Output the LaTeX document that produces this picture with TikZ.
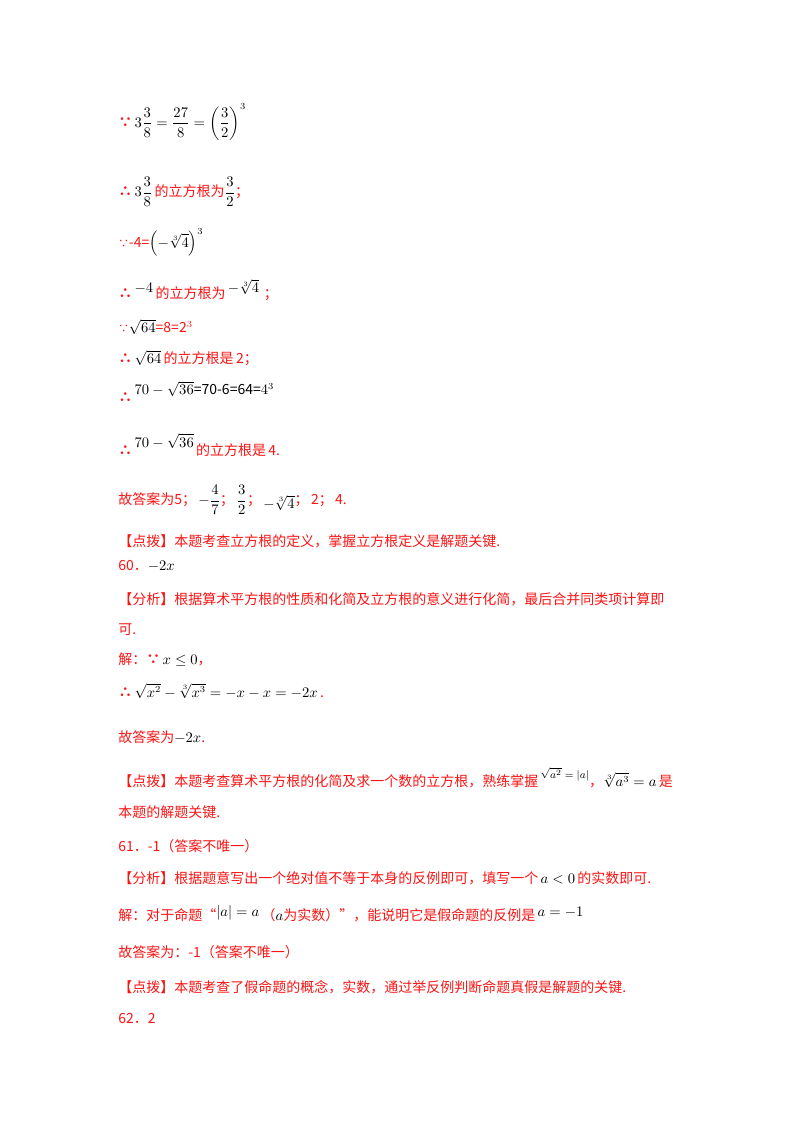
\documentclass[tikz,border=0pt]{standalone}
\usepackage{amsmath,amssymb}
\usepackage{fontspec}
\setmainfont{Noto Sans CJK SC}
\definecolor{rd}{RGB}{250,20,20}
\newcommand{\bec}{{\bfseries ∵}}
\newcommand{\thf}{{\bfseries ∴}}
\begin{document}
\begin{tikzpicture}[x=0.75pt,y=-0.75pt,
  t/.style={anchor=west,inner sep=0pt,text=rd,font=\fontsize{10.5}{12}\selectfont}]
\useasboundingbox (0,0) rectangle (800,1132);
\node[t] (n1) at (118,122) {\bec\,{\color{black}$3\dfrac{3}{8}=\dfrac{27}{8}=\left(\dfrac{3}{2}\right)^3$}};
\node[t] (n2) at (118,192) {\thf\,{\color{black}$3\dfrac{3}{8}$}\,的立方根为{\color{black}$\dfrac{3}{2}$}；};
\node[t] (n3) at (118,242) {{\footnotesize ∵}-4={\color{black}$\left(-\sqrt[3]{4}\right)^3$}};
\node[t] (n4) at (118,290) {\thf\,\raisebox{4pt}{\color{black}$-4$}\,的立方根为\,\raisebox{4pt}{\color{black}$-\sqrt[3]{4}$}\,\,；};
\node[t] (n5) at (118,327) {{\footnotesize ∵}{\color{black}$\sqrt{64}$}=8=2$^3$};
\node[t] (n6) at (118,358) {\thf\,{\color{black}$\sqrt{64}$}\,的立方根是\,2；};
\node[t] (n7) at (118,392) {\thf\,\raisebox{6pt}{\color{black}$70-\sqrt{36}$=70-6=64=$4^3$}};
\node[t] (n8) at (118,445) {\thf\,\raisebox{6pt}{\color{black}$70-\sqrt{36}$}\,的立方根是\,4.};
\node[t] (n9) at (118,500) {故答案为5；\,{\color{black}$-\dfrac{4}{7}$}；\,{\color{black}$\dfrac{3}{2}$}；\,\raisebox{-3pt}{\color{black}$-\sqrt[3]{4}$}；\,2；\,4.};
\node[t] (n10) at (118,541) {【点拨】本题考查立方根的定义，掌握立方根定义是解题关键.};
\node[t] (n11) at (118,566) {60．{\color{black}$-2x$}};
\node[t] (n12) at (118,599) {【分析】根据算术平方根的性质和化简及立方根的意义进行化简，最后合并同类项计算即};
\node[t] (n13) at (118,630) {可.};
\node[t] (n14) at (118,660) {解：\bec\,{\color{black}$x\le 0$}，};
\node[t] (n15) at (118,691) {\thf\,{\color{black}$\sqrt{x^2}-\sqrt[3]{x^3}=-x-x=-2x$}\,.};
\node[t] (n16) at (118,737) {故答案为{\color{black}$-2x$}.};
\node[t] (n17) at (118,778) {【点拨】本题考查算术平方根的化简及求一个数的立方根，熟练掌握\,\raisebox{6pt}{\color{black}\footnotesize$\sqrt{a^2}=|a|$}，{\color{black}$\sqrt[3]{a^3}=a$}\,是};
\node[t] (n18) at (118,812) {本题的解题关键.};
\node[t] (n19) at (118,846) {61．-1（答案不唯一）};
\node[t] (n20) at (118,878) {【分析】根据题意写出一个绝对值不等于本身的反例即可，填写一个\,{\color{black}$a<0$}\,的实数即可.};
\node[t] (n21) at (118,914) {解：对于命题“\raisebox{3pt}{\color{black}$|a|=a$}\,（{\color{black}$a$}为实数）”，能说明它是假命题的反例是\,\raisebox{3pt}{\color{black}$a=-1$}};
\node[t] (n22) at (118,952) {故答案为：-1（答案不唯一）};
\node[t] (n23) at (118,987) {【点拨】本题考查了假命题的概念，实数，通过举反例判断命题真假是解题的关键.};
\node[t] (n24) at (118,1018) {62．2};
\end{tikzpicture}
\end{document}
